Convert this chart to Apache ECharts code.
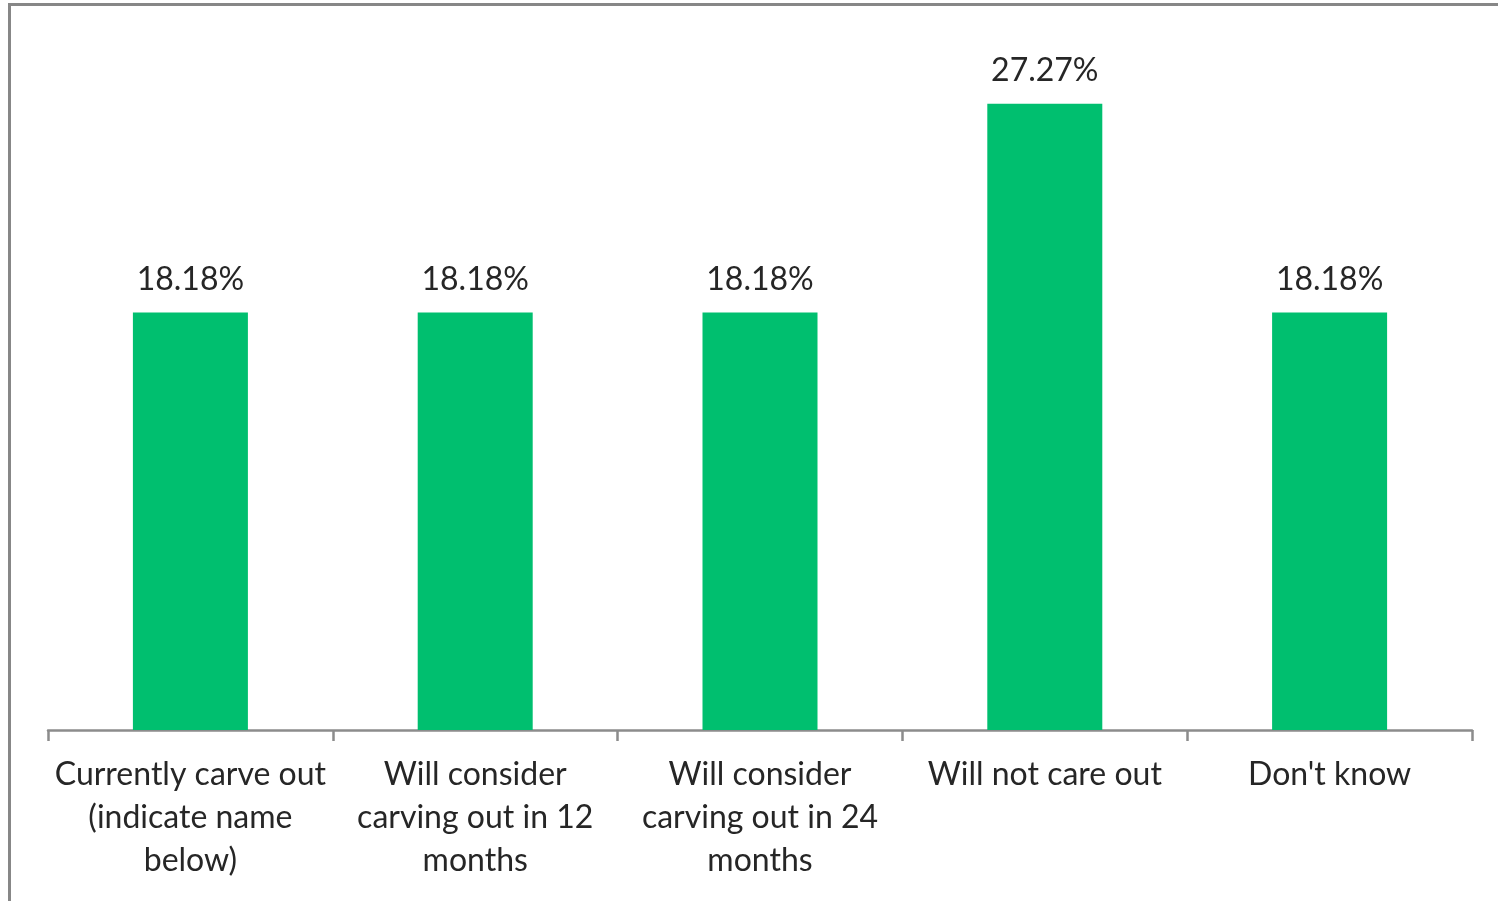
<!DOCTYPE html>
<html>
<head>
<meta charset="utf-8">
<script src="https://cdn.jsdelivr.net/npm/echarts@6/dist/echarts.min.js"></script>
<style>
  html, body { margin: 0; padding: 0; background: #fff; }
  #chart { width: 1498px; height: 901px; }
</style>
</head>
<body>
<div id="chart"></div>
<script>
// Survey answers (category labels, with manual line breaks)
const categories = [
  'Currently carve out\n(indicate name\nbelow)',
  'Will consider\ncarving out in 12\nmonths',
  'Will consider\ncarving out in 24\nmonths',
  'Will not care out',
  "Don't know"
];
// Share of respondents, percent
const shares = [18.18, 18.18, 18.18, 27.27, 18.18];

const FONT = 'Lato, "Open Sans", sans-serif';
const chart = echarts.init(document.getElementById('chart'));

chart.setOption({
  animation: false,
  backgroundColor: '#ffffff',
  grid: { left: 48, right: 26, top: 41, bottom: 171 },
  graphic: [{
    type: 'rect',
    shape: { x: 9.5, y: 4.5, width: 1520, height: 920 },
    style: { fill: 'none', stroke: '#878787', lineWidth: 3 },
    silent: true
  }],
  xAxis: {
    type: 'category',
    data: categories,
    axisLine: { lineStyle: { color: '#8c8c8c', width: 2.5 } },
    axisTick: { show: true, length: 11, lineStyle: { color: '#8c8c8c', width: 2.5 } },
    axisLabel: {
      interval: 0,
      margin: 23,
      color: '#262626',
      fontFamily: FONT,
      fontSize: 32,
      lineHeight: 43
    }
  },
  yAxis: {
    type: 'value',
    min: 0,
    max: 30,
    show: false,
    splitLine: { show: false }
  },
  series: [{
    type: 'bar',
    data: shares,
    barWidth: 115,
    itemStyle: { color: '#00bf6f' },
    label: {
      show: true,
      position: 'top',
      distance: 17,
      color: '#262626',
      fontFamily: FONT,
      fontSize: 32,
      formatter: p => p.value.toFixed(2) + '%'
    }
  }]
});
</script>
</body>
</html>
